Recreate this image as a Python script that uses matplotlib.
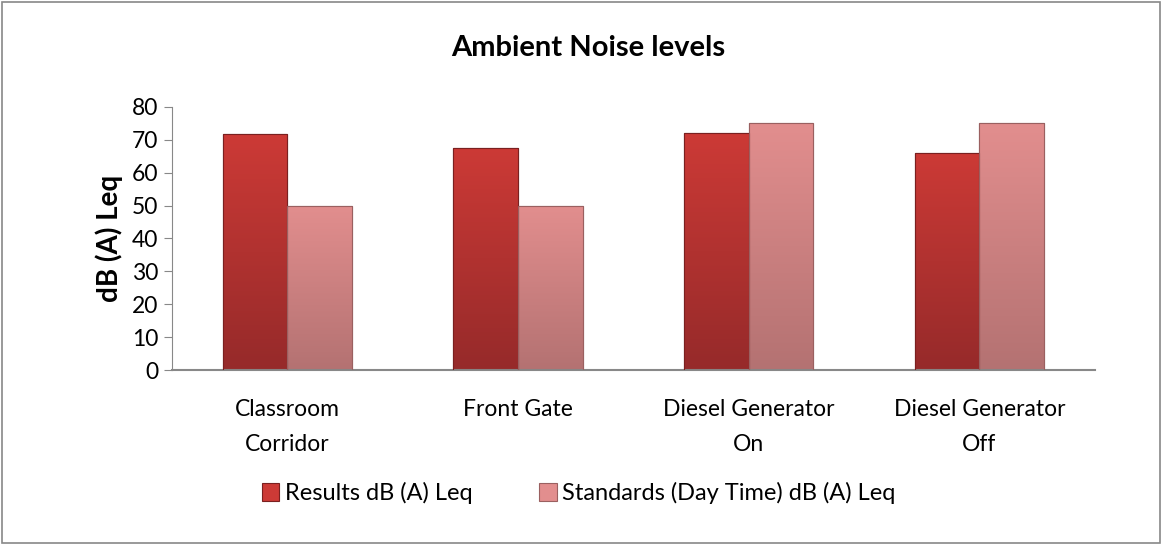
import matplotlib
matplotlib.use("Agg")
import matplotlib.pyplot as plt
import numpy as np
from matplotlib.patches import Rectangle

categories = ["Classroom\nCorridor", "Front Gate", "Diesel Generator\nOn", "Diesel Generator\nOff"]
results = [71.7, 67.5, 72.0, 66.1]
standards = [50, 50, 75, 75]
series_names = ["Results dB (A) Leq", "Standards (Day Time) dB (A) Leq"]
yticks = [0, 10, 20, 30, 40, 50, 60, 70, 80]

plt.rcParams['font.family'] = ['Lato', 'DejaVu Sans']

fig = plt.figure(figsize=(11.62, 5.45), dpi=100)
fig.patches.append(Rectangle((0.002, 0.004), 0.996, 0.992, transform=fig.transFigure,
                             fill=False, edgecolor='#888888', linewidth=1.2))
ax = fig.add_axes([0.148, 0.321, 0.794, 0.483])

x = np.arange(len(categories))
w = 0.28
top_cols = ['#cc3a36', '#e28e8e']
bot_cols = ['#962a2a', '#b47272']
edge_cols = ['#7a2020', '#9a6060']

def grad_bars(xs, vals, ci, label):
    bars = ax.bar(xs, vals, w, color=top_cols[ci], edgecolor=edge_cols[ci], linewidth=0.8,
                  label=label, zorder=2)
    for b in bars:
        x0, y0 = b.get_x(), b.get_y()
        bw, bh = b.get_width(), b.get_height()
        c1 = np.array(matplotlib.colors.to_rgb(top_cols[ci]))
        c2 = np.array(matplotlib.colors.to_rgb(bot_cols[ci]))
        t = np.linspace(0, 1, 100)[:, None]
        img = (c1 * (1 - t) + c2 * t)[:, None, :]
        im = ax.imshow(img, extent=[x0, x0 + bw, y0, y0 + bh], aspect='auto', zorder=2.5,
                       origin='upper')
        im.set_clip_path(b)
        ax.add_patch(Rectangle((x0, y0), bw, bh, fill=False, edgecolor=edge_cols[ci],
                               linewidth=0.8, zorder=3))
    return bars

grad_bars(x - w / 2, results, 0, series_names[0])
grad_bars(x + w / 2, standards, 1, series_names[1])

ax.set_xlim(-0.5, len(categories) - 0.5)
ax.set_ylim(0, 80)
ax.set_yticks(yticks)
ax.set_xticks(x)
ax.set_xticklabels(categories, fontsize=16.5, linespacing=1.8)
ax.tick_params(axis='y', labelsize=16.5, length=6, color='#888888', pad=4)
ax.tick_params(axis='x', length=0, pad=21)
for s in ['top', 'right']:
    ax.spines[s].set_visible(False)
ax.spines['left'].set_color('#888888')
ax.spines['bottom'].set_color('#888888')
ax.spines['bottom'].set_linewidth(1.5)
ax.set_ylabel("dB (A) Leq", fontsize=20, fontweight='bold', labelpad=6)

fig.text(0.506, 0.912, "Ambient Noise levels", ha='center', va='center', fontsize=21, fontweight='bold')

handles, labels = ax.get_legend_handles_labels()
fig.legend(handles, labels, loc='center', bbox_to_anchor=(0.498, 0.095), ncol=2, frameon=False,
           fontsize=17, handlelength=0.75, handleheight=0.75, handletextpad=0.25, columnspacing=2.8)

fig.savefig("out.png", dpi=100)
